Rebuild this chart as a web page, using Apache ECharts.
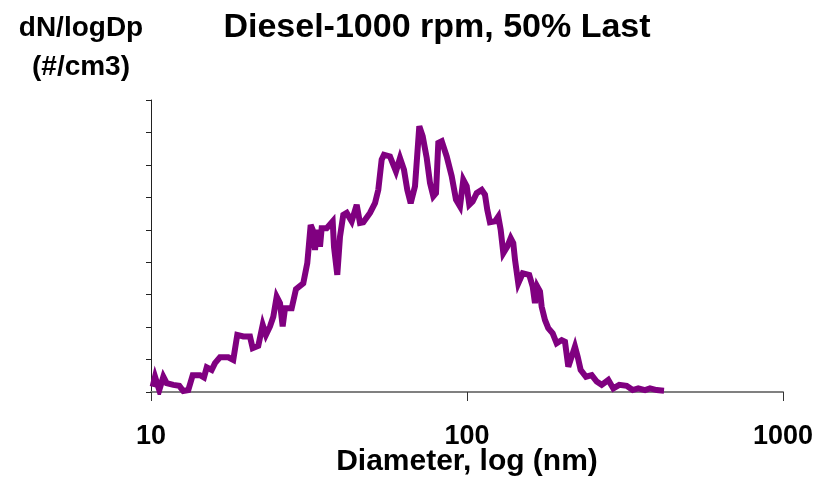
<!DOCTYPE html>
<html>
<head>
<meta charset="utf-8">
<title>Diesel-1000 rpm, 50% Last</title>
<script src="https://cdn.jsdelivr.net/npm/echarts@6/dist/echarts.min.js"></script>
<style>
  html, body { margin: 0; padding: 0; background: #fff; }
  #chart { width: 821px; height: 483px; }
</style>
</head>
<body>
<div id="chart"></div>
<script>
// particle diameter (nm)
var diameters = [
  10.12, 10.30, 10.62, 10.94, 11.21, 11.77, 12.29, 12.65, 13.12, 13.55,
  14.29, 14.71, 15.01, 15.56, 15.94, 16.53, 17.56, 18.21, 18.75, 19.59,
  20.57, 20.98, 21.85, 22.57, 23.11, 23.80, 24.38, 24.99, 25.60, 26.10,
  26.55, 27.87, 28.76, 30.33, 31.23, 32.01, 32.48, 33.03, 33.59, 34.26,
  34.68, 35.97, 37.58, 37.94, 38.86, 39.64, 40.60, 41.62, 43.16, 44.76,
  45.85, 46.97, 49.32, 51.15, 52.39, 53.70, 54.61, 57.05, 59.60, 61.37,
  63.18, 64.72, 66.35, 68.46, 70.64, 72.41, 74.56, 76.37, 78.23, 79.78,
  81.13, 83.17, 86.25, 89.45, 92.30, 95.03, 97.34, 99.78, 101.7, 104.2,
  107.3, 111.3, 114.0, 115.9, 118.2, 122.6, 125.6, 127.8, 130.3, 134.1,
  137.5, 140.1, 141.9, 145.3, 150.1, 157.4, 161.4, 164.1, 166.9, 170.2,
  172.3, 176.5, 180.8, 186.7, 192.2, 199.4, 204.2, 209.2, 214.4, 219.6,
  224.0, 228.9, 238.0, 248.1, 257.3, 266.8, 280.0, 290.4, 303.3, 320.1,
  334.4, 348.3, 365.9, 379.4, 398.4, 420.2
];
// dN/logDp, unlabelled axis, in tick units
var counts = [
  0.16, 0.47, 0.06, 0.47, 0.27, 0.22, 0.19, 0.03, 0.06, 0.52,
  0.52, 0.45, 0.76, 0.68, 0.89, 1.07, 1.07, 0.99, 1.76, 1.71,
  1.71, 1.35, 1.42, 2.07, 1.76, 2.02, 2.32, 2.94, 2.74, 2.02,
  2.58, 2.58, 3.17, 3.35, 3.97, 5.15, 5.00, 4.38, 5.00, 4.48,
  5.05, 5.05, 5.26, 4.48, 3.61, 4.79, 5.46, 5.52, 5.26, 5.77,
  5.21, 5.23, 5.52, 5.82, 6.23, 7.16, 7.31, 7.26, 6.80, 7.21,
  6.85, 6.23, 5.82, 6.34, 8.19, 7.88, 7.21, 6.44, 6.03, 6.13,
  7.68, 7.73, 7.26, 6.65, 5.93, 5.72, 6.54, 6.34, 5.77, 5.87,
  6.13, 6.23, 6.08, 5.62, 5.23, 5.26, 5.41, 5.00, 4.28, 4.48,
  4.74, 4.59, 4.07, 3.35, 3.66, 3.61, 3.25, 2.74, 3.25, 3.10,
  2.63, 2.22, 1.97, 1.81, 1.50, 1.60, 1.55, 0.78, 1.09, 1.40,
  1.09, 0.68, 0.47, 0.52, 0.32, 0.22, 0.37, 0.11, 0.22, 0.19,
  0.06, 0.11, 0.06, 0.11, 0.06, 0.04
];
var xTicks = [10, 100, 1000];

var font = 'Arial, "Liberation Sans", sans-serif';
var chart = echarts.init(document.getElementById('chart'));

chart.setOption({
  animation: false,
  backgroundColor: '#fff',
  title: [
    {
      text: 'Diesel-1000 rpm, 50% Last',
      left: 432, top: 6,
      textAlign: 'center',
      textStyle: { fontFamily: font, fontWeight: 'bold', fontSize: 34, color: '#000' }
    },
    {
      text: 'dN/logDp\n(#/cm3)',
      left: 76, top: 4,
      textAlign: 'center',
      textStyle: { fontFamily: font, fontWeight: 'bold', fontSize: 28, lineHeight: 39, color: '#000' }
    }
  ],
  grid: { left: 151, right: 38, top: 100, bottom: 91, containLabel: false, outerBoundsMode: 'none' },
  xAxis: {
    type: 'log',
    logBase: 10,
    min: 10,
    max: 1000,
    name: 'Diameter, log (nm)',
    nameLocation: 'middle',
    nameGap: 55,
    nameMoveOverlap: false,
    nameTextStyle: { fontFamily: font, fontWeight: 'bold', fontSize: 30, color: '#000' },
    axisLine: { onZero: false, lineStyle: { color: '#808080', width: 2 } },
    axisTick: { length: 9, lineStyle: { color: '#333', width: 1 } },
    axisLabel: {
      margin: 31,
      fontFamily: font, fontWeight: 'bold', fontSize: 27, color: '#000',
      formatter: function (v) { return xTicks.indexOf(v) >= 0 ? String(v) : ''; }
    },
    splitLine: { show: false },
    minorTick: { show: false }
  },
  yAxis: {
    type: 'value',
    min: 0,
    max: 9,
    interval: 1,
    axisLine: { show: true, lineStyle: { color: '#222', width: 1 } },
    axisTick: { show: true, length: 5, lineStyle: { color: '#222', width: 1 } },
    axisLabel: { show: false },
    splitLine: { show: false }
  },
  series: [{
    type: 'line',
    data: diameters.map(function (d, i) { return [d, counts[i]]; }),
    showSymbol: false,
    lineStyle: { color: '#800080', width: 6, join: 'miter', miterLimit: 4 },
    z: 1
  }]
});
</script>
</body>
</html>
